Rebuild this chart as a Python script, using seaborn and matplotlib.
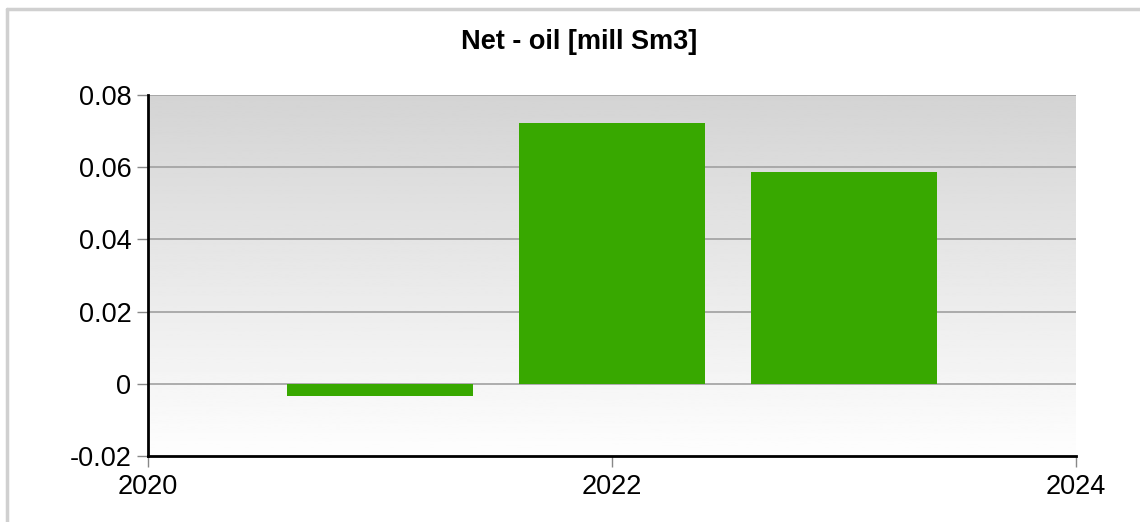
import numpy as np
import pandas as pd
import seaborn as sns
import matplotlib.pyplot as plt
from matplotlib.lines import Line2D

# Data
years = [2021, 2022, 2023]
net_oil = [-0.0033, 0.0722, 0.0587]
y_ticks = [-0.02, 0, 0.02, 0.04, 0.06, 0.08]
y_tick_labels = ["-0.02", "0", "0.02", "0.04", "0.06", "0.08"]
x_ticks = [2020, 2022, 2024]

df = pd.DataFrame({"year": years, "value": net_oil})

sns.set_style("white")
plt.rcParams["font.family"] = ["Liberation Sans", "DejaVu Sans"]

fig = plt.figure(figsize=(11.4, 5.22), dpi=100)
ax = fig.add_axes([148 / 1140, 1 - 456 / 522, (1076 - 148) / 1140, (456 - 95) / 522])

# gradient background, dark at top, almost white at bottom
grad = np.linspace(0.83, 0.995, 256).reshape(-1, 1)
ax.imshow(grad, cmap="gray", vmin=0, vmax=1, aspect="auto", origin="upper",
          extent=[0, 1, 0, 1], transform=ax.transAxes, zorder=0)

sns.barplot(data=df, x="year", y="value", native_scale=True, width=0.8,
            color="#38a800", saturation=1, linewidth=0, ax=ax, zorder=3)

ax.set_xlim(2020, 2024)
ax.set_ylim(-0.02, 0.08)
ax.set_yticks(y_ticks)
ax.set_yticklabels(y_tick_labels)
ax.set_xticks(x_ticks)
ax.set_xticklabels([str(x) for x in x_ticks])

for yv in y_ticks[1:]:
    ax.axhline(yv, color="#a0a0a0", lw=1.2, zorder=2)

ax.set_xlabel("")
ax.set_ylabel("")
for s in ["top", "right"]:
    ax.spines[s].set_visible(False)
for s in ["left", "bottom"]:
    ax.spines[s].set_color("black")
    ax.spines[s].set_linewidth(2)
    ax.spines[s].set_zorder(5)

ax.tick_params(axis="y", direction="out", length=8, width=1, color="#888888",
               labelsize=19.5, labelcolor="black", pad=4, left=True)
ax.tick_params(axis="x", direction="out", length=8, width=1, color="#888888",
               labelsize=19.5, labelcolor="black", pad=5, bottom=True)

fig.text(579 / 1140, 1 - 42 / 522, "Net - oil [mill Sm3]", ha="center", va="center",
         fontsize=19.5, fontweight="bold", color="black")

# outer frame
fig.add_artist(Line2D([7 / 1140, 1], [1 - 9 / 522, 1 - 9 / 522], color="#d0d0d0", lw=2.5))
fig.add_artist(Line2D([7 / 1140, 7 / 1140], [0, 1 - 9 / 522], color="#d0d0d0", lw=2.5))

fig.savefig("out.png", dpi=100)
